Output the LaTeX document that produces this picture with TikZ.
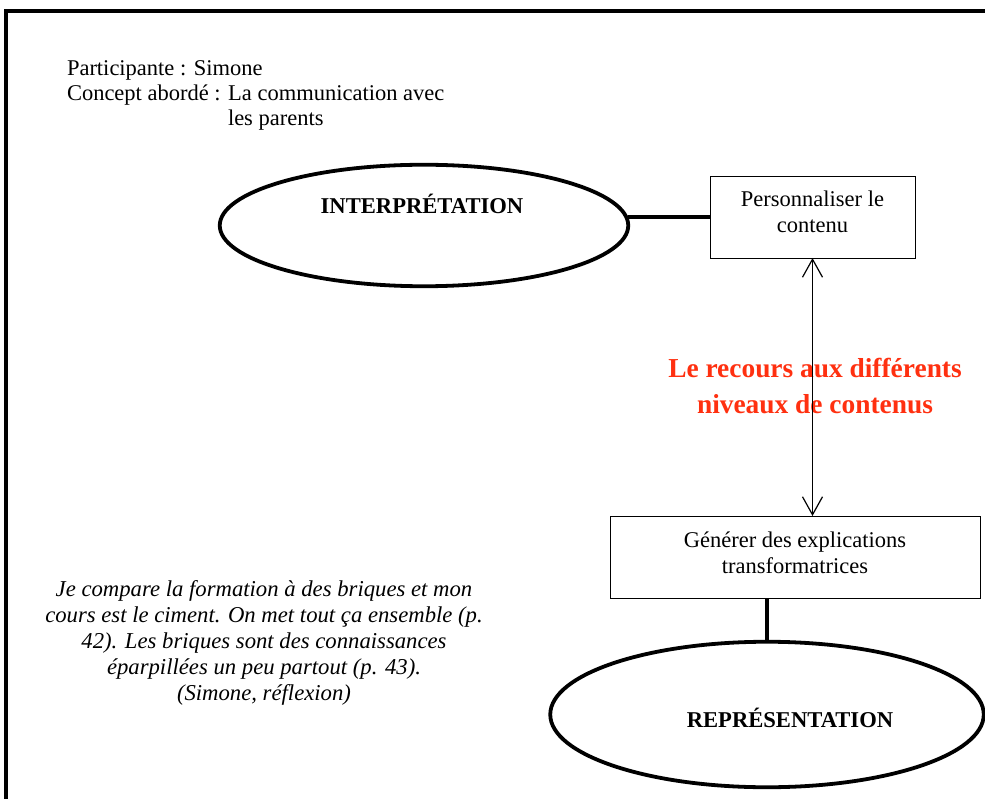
\documentclass[tikz,border=0pt]{standalone}
\usepackage{fontspec}
\setmainfont{Liberation Serif}
\usetikzlibrary{shapes.geometric,arrows.meta}
\definecolor{redtxt}{RGB}{255,48,16}
\begin{document}
\begin{tikzpicture}[x=1pt,y=-1pt,
  every node/.style={inner sep=0pt,outer sep=0pt},
  ell/.style={draw,line width=3.8pt,ellipse},
  boxnode/.style={draw,line width=0.9pt},
  bodytxt/.style={font=\fontsize{22.5}{26}\selectfont,align=center},
  lbltxt/.style={font=\fontsize{22.6}{26}\selectfont\bfseries},
  redlbl/.style={font=\fontsize{27.4}{36}\selectfont\bfseries,text=redtxt,align=center},
  quotetxt/.style={font=\fontsize{22.7}{26}\selectfont\itshape,align=center},
  hdr/.style={font=\fontsize{22.5}{26}\selectfont,anchor=base west},
  thick link/.style={line width=4pt},
  twoway/.style={line width=1.2pt,{Straight Barb[length=18pt,width=20pt]}-{Straight Barb[length=18pt,width=20pt]}}
]
\useasboundingbox (0,0) rectangle (985,799);
\clip (0,0) rectangle (985,799);
% frame
\draw[line width=4pt] (5.5,820) -- (5.5,11.5) -- (1000,11.5);
% header
\node[hdr] (h1) at (67,76) {Participante : Simone};
\node[hdr] (h2) at (67,101) {Concept abordé : La communication avec};
\node[hdr] (h3) at (228,126) {les parents};
% interpretation
\node[ell,minimum width=408.5pt,minimum height=121.5pt] (interp) at (424,225.5) {};
\node[lbltxt] (interpt) at (422,204) {INTERPRÉTATION};
% box 1
\node[boxnode,minimum width=205pt,minimum height=82pt] (pc) at (812.5,217) {};
\node[bodytxt] (pct) at (812.5,212) {Personnaliser le\\contenu};
% box 2
\node[boxnode,minimum width=370pt,minimum height=82pt] (gen) at (795,557) {};
\node[bodytxt] (gent) at (795,552.5) {Générer des explications\\transformatrices};
% representation
\node[ell,minimum width=433.5pt,minimum height=145.5pt] (rep) at (767,714.5) {};
\node[lbltxt] (rept) at (790,718) {REPRÉSENTATION};
% red label
\node[redlbl] (lvl) at (815,386) {Le recours aux différents\\niveaux de contenus};
% quote
\node[quotetxt] (q) at (264,643) {Je compare la formation à des briques et mon\\cours est le ciment. On met tout ça ensemble (p.\\42). Les briques sont des connaissances\\éparpillées un peu partout (p. 43).\\(Simone, réflexion)};
% connectors
\draw[thick link] (pc.west) -- (interp.east |- pc.west);
\draw[thick link] (rep.north) -- (rep.north |- gen.south);
\draw[twoway] (pc.south) -- (pc.south |- gen.north);
\end{tikzpicture}
\end{document}
